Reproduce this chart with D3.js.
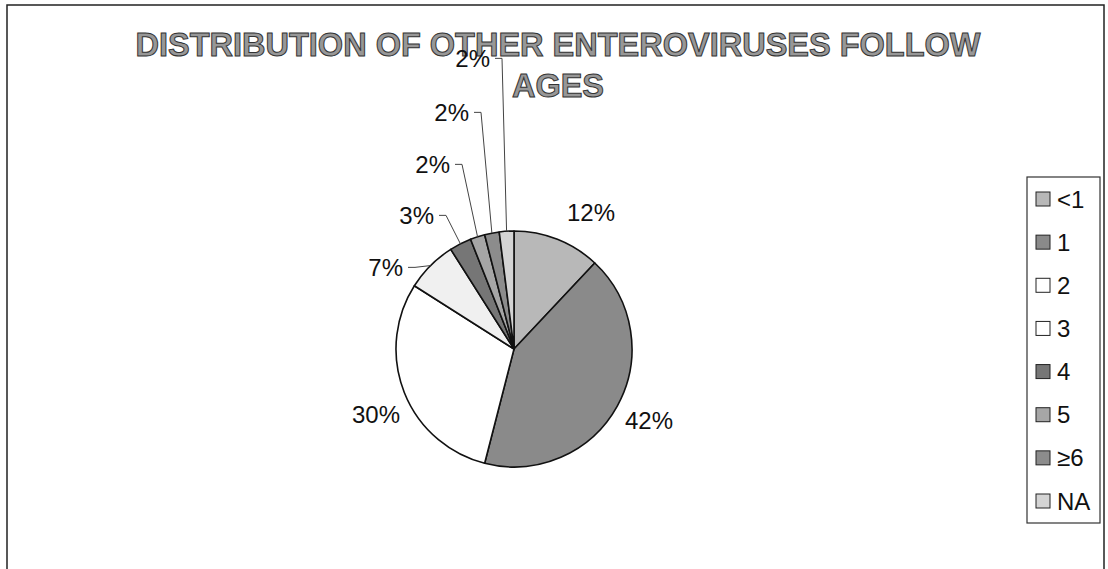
<!DOCTYPE html>
<html>
<head>
<meta charset="utf-8">
<script src="https://cdn.jsdelivr.net/npm/d3@7"></script>
<style>
  html, body { margin: 0; padding: 0; background: #fff; }
  svg { display: block; }
  text { font-family: Arial, "Liberation Sans", sans-serif; }
</style>
</head>
<body>
<svg id="chart" width="1108" height="569"></svg>
<script>
// Age groups and their share of other enterovirus cases (%)
const categories = ["<1", "1", "2", "3", "4", "5", "\u22656", "NA"];
const shares = [12, 42, 30, 7, 3, 2, 2, 2];
const titleLines = ["DISTRIBUTION OF OTHER ENTEROVIRUSES FOLLOW", "AGES"];

// Grey shades per age group
const fills = ["#b8b8b8", "#8a8a8a", "#ffffff", "#f0f0f0", "#767676", "#a6a6a6", "#8c8c8c", "#d4d4d4"];

const svg = d3.select("#chart");

// Outer frame
svg.append("rect")
  .attr("x", 7).attr("y", 5)
  .attr("width", 1097).attr("height", 600)
  .attr("fill", "#fff").attr("stroke", "#222").attr("stroke-width", 1.5);

// Title (outlined grey lettering)
const title = svg.append("g");
title.selectAll("text").data(titleLines).join("text")
  .attr("x", 558)
  .attr("y", (d, i) => 56 + i * 41)
  .attr("text-anchor", "middle")
  .attr("font-size", 32.5)
  .attr("font-weight", "bold")
  .attr("fill", "#979797")
  .attr("stroke", "#333")
  .attr("stroke-width", 1)
  .text(d => d);

// Pie
const cx = 514, cy = 349, R = 118;
const pie = d3.pie().sort(null).value(d => d.v);
const arcs = pie(categories.map((c, i) => ({ c, v: shares[i], i })));
const arc = d3.arc().innerRadius(0).outerRadius(R);

const g = svg.append("g").attr("transform", `translate(${cx},${cy})`);
g.selectAll("path.slice").data(arcs).join("path")
  .attr("class", "slice")
  .attr("d", arc)
  .attr("fill", d => fills[d.data.i])
  .attr("stroke", "#111")
  .attr("stroke-width", 1.6)
  .attr("stroke-linejoin", "round");

// Data labels: offsets from the pie centre (anchor, baseline)
const labelLayout = [
  { dx: 77,  dy: -128, anchor: "middle", leader: false },
  { dx: 135, dy: 80,   anchor: "middle", leader: false },
  { dx: -138, dy: 74,  anchor: "middle", leader: false },
  { dx: -111, dy: -73, anchor: "end", leader: true },
  { dx: -80, dy: -125, anchor: "end", leader: true },
  { dx: -64, dy: -176, anchor: "end", leader: true },
  { dx: -45, dy: -228, anchor: "end", leader: true },
  { dx: -24, dy: -282, anchor: "end", leader: true }
];
const fs = 24;
const edge = d3.arc().innerRadius(R).outerRadius(R);

arcs.forEach((a, k) => {
  const L = labelLayout[k];
  if (L.leader) {
    const [ex, ey] = edge.centroid(a);
    const midY = L.dy - fs * 0.36;
    const x0 = L.dx + 5, x1 = L.dx + 12;
    g.append("path")
      .attr("d", `M${x0},${midY}H${x1}L${ex},${ey}`)
      .attr("fill", "none")
      .attr("stroke", "#444")
      .attr("stroke-width", 1);
  }
  g.append("text")
    .attr("x", L.dx).attr("y", L.dy)
    .attr("text-anchor", L.anchor)
    .attr("font-size", fs)
    .attr("fill", "#111")
    .text(a.data.v + "%");
});

// Legend
const lg = svg.append("g");
lg.append("rect")
  .attr("x", 1027).attr("y", 177)
  .attr("width", 73).attr("height", 346)
  .attr("fill", "#fff").attr("stroke", "#333").attr("stroke-width", 1.2);

const ly = d3.scalePoint().domain(categories).range([199, 501]);
const items = lg.selectAll("g.item").data(categories).join("g")
  .attr("class", "item")
  .attr("transform", d => `translate(1036,${ly(d)})`);
items.append("rect")
  .attr("x", 0).attr("y", -7)
  .attr("width", 14).attr("height", 14)
  .attr("fill", (d, i) => fills[i] === "#f0f0f0" ? "#ffffff" : fills[i])
  .attr("stroke", "#222").attr("stroke-width", 1);
items.append("text")
  .attr("x", 21).attr("y", 8.5)
  .attr("font-size", 24)
  .attr("fill", "#111")
  .text(d => d);
</script>
</body>
</html>
